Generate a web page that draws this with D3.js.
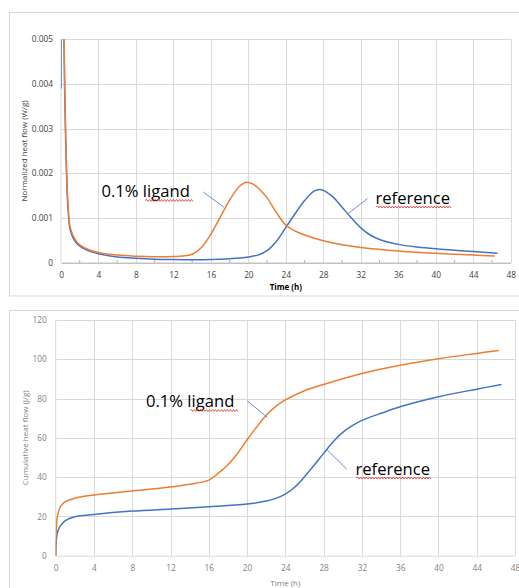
<!DOCTYPE html>
<html>
<head>
<meta charset="utf-8">
<script src="https://cdn.jsdelivr.net/npm/d3@7"></script>
<style>
  body { margin: 0; background: #fff; }
  svg { display: block; font-family: "Open Sans", sans-serif; }
</style>
</head>
<body>
<div id="chart"></div>
<script>
// ticks
var xTicks = [0, 4, 8, 12, 16, 20, 24, 28, 32, 36, 40, 44, 48];
var flowTicks = [0, 0.001, 0.002, 0.003, 0.004, 0.005];
var cumTicks = [0, 20, 40, 60, 80, 100, 120];

// normalized heat flow (W/g), reference
var flowRefTime = [0, 0.05, 0.3, 0.4, 0.5, 0.6, 0.75, 1, 1.5, 2, 3, 4, 6, 8, 10, 12, 14, 16, 18, 20, 21, 22, 23, 24, 25, 26, 27, 27.6, 28, 29, 30, 31, 32, 33, 34, 36, 38, 40, 42, 44, 46.6];
var flowRef = [0.0039, 0.0075, 0.0052, 0.0037, 0.0027, 0.0019, 0.0012, 0.00072, 0.00048, 0.00037, 0.00026, 0.0002, 0.00013, 0.0001, 0.00008, 0.00007, 0.000065, 0.00007, 0.00009, 0.00013, 0.00017, 0.00027, 0.00048, 0.00079, 0.0011, 0.00139, 0.0016, 0.00164, 0.00162, 0.00148, 0.00124, 0.001, 0.00078, 0.00062, 0.00052, 0.00041, 0.00035, 0.00031, 0.00028, 0.00025, 0.00021];

// normalized heat flow (W/g), 0.1% ligand
var flowLigTime = [0.22, 0.3, 0.4, 0.5, 0.6, 0.75, 1, 1.5, 2, 3, 4, 6, 8, 10, 12, 13, 14, 15, 16, 17, 18, 19, 19.8, 20.5, 21.2, 22, 23, 24, 25, 26, 28, 30, 32, 36, 40, 44, 46.3];
var flowLig = [0.008, 0.0055, 0.004, 0.0029, 0.0021, 0.0013, 0.00078, 0.00052, 0.0004, 0.00029, 0.00023, 0.00017, 0.000145, 0.000135, 0.00014, 0.00015, 0.00019, 0.00034, 0.00064, 0.00102, 0.0014, 0.0017, 0.0018, 0.00176, 0.00164, 0.00145, 0.00112, 0.00084, 0.00071, 0.00062, 0.00049, 0.0004, 0.00034, 0.00026, 0.00021, 0.00017, 0.00015];

// cumulative heat flow (J/g), reference
var cumRefTime = [0, 0.05, 0.15, 0.3, 0.5, 1, 2, 4, 8, 12, 16, 20, 22, 23, 24, 25, 26, 27, 28, 29, 30, 31, 32, 33, 34, 36, 40, 44, 46.6];
var cumRef = [0, 7, 11, 13.5, 15.3, 17.8, 19.8, 21, 22.7, 23.8, 24.9, 26.3, 27.8, 29.2, 31.4, 35, 40.2, 46, 52.1, 58, 62.8, 66.2, 68.9, 70.8, 72.5, 75.8, 80.9, 84.8, 87.2];

// cumulative heat flow (J/g), 0.1% ligand
var cumLigTime = [0, 0.05, 0.15, 0.3, 0.5, 1, 2, 4, 8, 12, 14, 16, 17, 18, 19, 20, 21, 22, 23, 24, 26, 28, 32, 36, 40, 44, 46.3];
var cumLig = [0, 12, 19, 22.5, 25, 27.5, 29.3, 30.9, 32.9, 35, 36.4, 38.5, 42, 46.3, 52, 59, 65.5, 71.5, 76, 79.3, 84, 87.2, 92.8, 97, 100.3, 103, 104.5];

var blue = "#4472C4", orange = "#ED7D31";

var svg = d3.select("#chart").append("svg")
    .attr("width", 519)
    .attr("height", 588);

// chart area borders
svg.append("rect").attr("x", 9.5).attr("y", 12.5).attr("width", 530).attr("height", 283.5)
    .attr("fill", "none").attr("stroke", "#d9d9d9");
svg.append("rect").attr("x", 9.5).attr("y", 310.5).attr("width", 530).attr("height", 300)
    .attr("fill", "none").attr("stroke", "#d9d9d9");

function zip(t, v) { return t.map(function(d, i) { return [d, v[i]]; }); }

function squiggle(x0, x1, y) {
    var p = "M" + x0 + "," + y;
    var up = true;
    for (var x = x0 + 1.5; x <= x1; x += 1.5) {
        p += "L" + x + "," + (y + (up ? -1 : 1));
        up = !up;
    }
    svg.append("path").attr("d", p).attr("fill", "none")
        .attr("stroke", "#e0302a").attr("stroke-width", 0.8);
}

function panel(cfg) {
    var x = d3.scaleLinear().domain([0, 48]).range([cfg.left, cfg.right]);
    var y = d3.scaleLinear().domain([0, cfg.yMax]).range([cfg.bottom, cfg.top]);
    var g = svg.append("g");

    // gridlines
    g.selectAll(".hgrid").data(cfg.yTicks.slice(1)).enter().append("line")
        .attr("x1", cfg.left).attr("x2", cfg.right)
        .attr("y1", function(d) { return Math.round(y(d)) + 0.5; })
        .attr("y2", function(d) { return Math.round(y(d)) + 0.5; })
        .attr("stroke", "#d9d9d9");
    g.selectAll(".vgrid").data(xTicks.slice(1)).enter().append("line")
        .attr("x1", function(d) { return Math.round(x(d)) + 0.5; })
        .attr("x2", function(d) { return Math.round(x(d)) + 0.5; })
        .attr("y1", cfg.top).attr("y2", cfg.bottom)
        .attr("stroke", "#d9d9d9");

    // left axis line
    g.append("line").attr("x1", cfg.left).attr("x2", cfg.left)
        .attr("y1", cfg.top).attr("y2", cfg.bottom).attr("stroke", "#d9d9d9");

    // x axis
    var xAxis = g.append("g")
        .attr("transform", "translate(0," + cfg.bottom + ")")
        .call(d3.axisBottom(x).tickValues(xTicks).tickSize(0).tickPadding(cfg.xPad));
    xAxis.select(".domain").attr("stroke", cfg.axisColor);
    xAxis.selectAll("text").attr("fill", cfg.tickColor).style("font-size", "8.3px")
        .style("font-family", "'Open Sans', sans-serif");

    if (cfg.minor) {
        g.selectAll(".minor").data(d3.range(2, 48, 4)).enter().append("line")
            .attr("x1", function(d) { return x(d); }).attr("x2", function(d) { return x(d); })
            .attr("y1", cfg.bottom).attr("y2", cfg.bottom - 2.5)
            .attr("stroke", cfg.axisColor);
    }

    // y axis
    var yAxis = g.append("g")
        .attr("transform", "translate(" + cfg.left + ",0)")
        .call(d3.axisLeft(y).tickValues(cfg.yTicks).tickFormat(cfg.fmt).tickSize(0).tickPadding(cfg.yPad));
    yAxis.select(".domain").remove();
    yAxis.selectAll("text").attr("fill", cfg.tickColor).style("font-size", "8.3px")
        .style("font-family", "'Open Sans', sans-serif");

    // axis titles
    svg.append("text")
        .attr("transform", "translate(" + cfg.yTitleX + "," + ((cfg.top + cfg.bottom) / 2) + ")rotate(-90)")
        .attr("text-anchor", "middle")
        .attr("dy", "0.35em")
        .style("font-size", "8px")
        .attr("fill", cfg.titleColor)
        .text(cfg.yTitle);
    svg.append("text")
        .attr("x", (cfg.left + cfg.right) / 2)
        .attr("y", cfg.xTitleY)
        .attr("text-anchor", "middle")
        .style("font-size", "8px")
        .style("font-weight", cfg.xTitleBold ? "bold" : "normal")
        .attr("fill", cfg.xTitleColor)
        .text("Time (h)");

    // lines
    var clipId = "clip" + cfg.id;
    svg.append("clipPath").attr("id", clipId).append("rect")
        .attr("x", cfg.left).attr("y", cfg.top)
        .attr("width", cfg.right - cfg.left).attr("height", cfg.bottom - cfg.top);

    var line = d3.line()
        .x(function(d) { return x(d[0]); })
        .y(function(d) { return y(d[1]); })
        .curve(d3.curveCatmullRom.alpha(0.5));

    var lines = svg.append("g").attr("clip-path", "url(#" + clipId + ")");
    lines.append("path").datum(zip(cfg.refT, cfg.refV))
        .attr("d", line).attr("fill", "none").attr("stroke", blue).attr("stroke-width", 1.5);
    lines.append("path").datum(zip(cfg.ligT, cfg.ligV))
        .attr("d", line).attr("fill", "none").attr("stroke", orange).attr("stroke-width", 1.5);

    // annotations
    cfg.notes.forEach(function(n) {
        svg.append("line")
            .attr("x1", n.lx1).attr("y1", n.ly1).attr("x2", n.lx2).attr("y2", n.ly2)
            .attr("stroke", blue).attr("stroke-width", 0.8);
        svg.append("text")
            .attr("x", n.tx).attr("y", n.ty)
            .style("font-size", "16.6px")
            .attr("fill", "#000")
            .text(n.text);
        squiggle(n.sx0, n.sx1, n.sy);
    });
}

panel({
    id: 1, left: 61, right: 510.7, top: 39.3, bottom: 262.7,
    yMax: 0.005, yTicks: flowTicks,
    fmt: function(d) { return d === 0 ? "0" : d3.format(".3f")(d); },
    xPad: 9, yPad: 8, minor: true,
    axisColor: "#a6a6a6", tickColor: "#404040", titleColor: "#404040",
    yTitle: "Normalized heat flow (W/g)", yTitleX: 24.5,
    xTitleY: 290, xTitleBold: true, xTitleColor: "#000",
    refT: flowRefTime, refV: flowRef, ligT: flowLigTime, ligV: flowLig,
    notes: [
        {text: "0.1% ligand", tx: 101.5, ty: 196.5, lx1: 203.3, ly1: 192, lx2: 224, ly2: 207.3, sx0: 145, sx1: 193, sy: 200.5},
        {text: "reference", tx: 375.5, ty: 204, lx1: 367.5, ly1: 198.5, lx2: 348.3, ly2: 213.5, sx0: 376, sx1: 452, sy: 207}
    ]
});

panel({
    id: 2, left: 55.7, right: 515, top: 320, bottom: 555.7,
    yMax: 120, yTicks: cumTicks,
    fmt: d3.format("d"),
    xPad: 9, yPad: 9, minor: false,
    axisColor: "#d9d9d9", tickColor: "#7f7f7f", titleColor: "#7f7f7f",
    yTitle: "Cumulative heat flow (J/g)", yTitleX: 25,
    xTitleY: 585.5, xTitleBold: false, xTitleColor: "#7f7f7f",
    refT: cumRefTime, refV: cumRef, ligT: cumLigTime, ligV: cumLig,
    notes: [
        {text: "0.1% ligand", tx: 146, ty: 406.5, lx1: 247.3, ly1: 401, lx2: 267.3, ly2: 417.3, sx0: 190, sx1: 238, sy: 410.5},
        {text: "reference", tx: 355.5, ty: 475, lx1: 327.3, ly1: 450, lx2: 346.7, ly2: 469, sx0: 356, sx1: 432, sy: 478}
    ]
});
</script>
</body>
</html>
